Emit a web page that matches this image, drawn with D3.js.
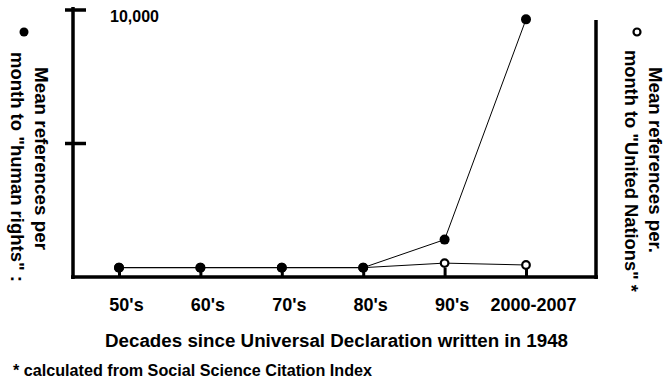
<!DOCTYPE html>
<html><head><meta charset="utf-8">
<script src="https://cdn.jsdelivr.net/npm/d3@7"></script>
<style>
html,body{margin:0;padding:0;background:#fff;}
text{font-family:"Liberation Sans",Arial,sans-serif;font-weight:bold;fill:#000;}
</style></head>
<body>
<svg id="chart" width="665" height="380"></svg>
<script>
const categories = ["50's","60's","70's","80's","90's","2000-2007"];
const humanRights = [350, 350, 350, 350, 1400, 9650];
const unitedNations = [350, 350, 350, 350, 520, 450];
const yTicks = [5000, 10000];
const yTickLabel = "10,000";

const svg = d3.select("#chart");
const x = d3.scalePoint().domain(categories).range([119, 526]);
const y = d3.scaleLinear().domain([0, 10000]).range([277, 10]);

// x axis ticks (stems) and labels
const xAxis = d3.axisBottom(x).tickSizeInner(-9).tickSizeOuter(0).tickPadding(21);
const gx = svg.append("g").attr("transform", "translate(0,277)").call(xAxis);
gx.select(".domain").remove();
gx.selectAll(".tick line").attr("stroke", "#000").attr("stroke-width", 3);
gx.selectAll(".tick text").attr("font-size", 18).attr("font-family", "Liberation Sans, Arial, sans-serif")
  .attr("font-weight", "bold").attr("fill", "#000").attr("dx", 7);

// axes frame
svg.append("line").attr("x1", 73).attr("x2", 73).attr("y1", 7).attr("y2", 279).attr("stroke", "#000").attr("stroke-width", 3.5);
svg.append("line").attr("x1", 71).attr("x2", 598).attr("y1", 277).attr("y2", 277).attr("stroke", "#000").attr("stroke-width", 3.5);
svg.append("line").attr("x1", 596).attr("x2", 596).attr("y1", 20).attr("y2", 279).attr("stroke", "#000").attr("stroke-width", 3.5);

// y ticks
svg.selectAll(".ytick").data(yTicks).enter().append("line")
  .attr("x1", 65).attr("x2", 86).attr("y1", d => y(d)).attr("y2", d => y(d))
  .attr("stroke", "#000").attr("stroke-width", 3.5);
svg.append("text").attr("x", 110).attr("y", 22).attr("font-size", 16).text(yTickLabel);

// lines
const line = d3.line().x((d, i) => x(categories[i])).y(d => y(d));
svg.append("path").datum(unitedNations).attr("d", line).attr("fill", "none").attr("stroke", "#000").attr("stroke-width", 1);
svg.append("path").datum(humanRights).attr("d", line).attr("fill", "none").attr("stroke", "#000").attr("stroke-width", 1);

// markers
svg.selectAll(".un").data(unitedNations).enter().append("circle")
  .attr("cx", (d, i) => x(categories[i])).attr("cy", d => y(d)).attr("r", 3.8)
  .attr("fill", "#fff").attr("stroke", "#000").attr("stroke-width", 2.2);
svg.selectAll(".hr").data(humanRights).enter().append("circle")
  .attr("cx", (d, i) => x(categories[i])).attr("cy", d => y(d)).attr("r", 5)
  .attr("fill", "#000");

// left label
svg.append("circle").attr("cx", 24).attr("cy", 32).attr("r", 4.5).attr("fill", "#000");
svg.append("text").attr("transform", "translate(35,67) rotate(90)").attr("font-size", 19)
  .attr("textLength", 183).attr("lengthAdjust", "spacingAndGlyphs").text("Mean references per");
svg.append("text").attr("transform", "translate(11,52) rotate(90)").attr("font-size", 19)
  .attr("textLength", 230).attr("lengthAdjust", "spacingAndGlyphs").text("month to \"human rights\" :");

// right label
svg.append("circle").attr("cx", 637).attr("cy", 32).attr("r", 3.5).attr("fill", "#fff").attr("stroke", "#000").attr("stroke-width", 2.2);
svg.append("text").attr("transform", "translate(649,67) rotate(90)").attr("font-size", 19)
  .attr("textLength", 186).attr("lengthAdjust", "spacingAndGlyphs").text("Mean references per.");
svg.append("text").attr("transform", "translate(625,50) rotate(90)").attr("font-size", 19)
  .attr("textLength", 242).attr("lengthAdjust", "spacingAndGlyphs").text("month to \"United Nations\" *");

// x title
svg.append("text").attr("x", 105).attr("y", 347).attr("font-size", 18)
  .attr("textLength", 463).attr("lengthAdjust", "spacingAndGlyphs").text("Decades since Universal Declaration written in 1948");
// footnote
svg.append("text").attr("x", 13).attr("y", 376).attr("font-size", 16)
  .attr("textLength", 359).attr("lengthAdjust", "spacingAndGlyphs").text("* calculated from Social Science Citation Index");
</script>
</body></html>
